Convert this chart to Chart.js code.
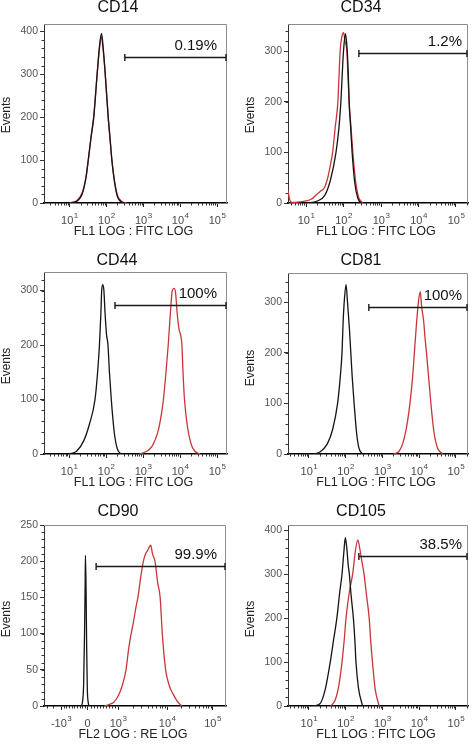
<!DOCTYPE html>
<html lang="en">
<head>
<meta charset="UTF-8" />
<title>Flow cytometry histograms</title>
<script src="https://cdn.jsdelivr.net/npm/chart.js"></script>
<style>
  body { margin: 0; background: #fff; }
  #wrap { position: relative; width: 472px; height: 744px; }
  #wrap canvas { position: absolute; }
</style>
</head>
<body>
<div id="wrap">
  <canvas id="c0" style="left:0;top:0"></canvas>
  <canvas id="c1" style="left:236px;top:0"></canvas>
  <canvas id="c2" style="left:0;top:248px"></canvas>
  <canvas id="c3" style="left:236px;top:248px"></canvas>
  <canvas id="c4" style="left:0;top:496px"></canvas>
  <canvas id="c5" style="left:236px;top:496px"></canvas>
</div>
<script>
// histogram points: [channel (log10 of intensity), events]
// black = isotype control, red = stained sample
const cd14Iso = [[1.0,0],[1.2,4],[1.35,22],[1.45,60],[1.51,100],[1.58,150],[1.66,200],[1.75,300],[1.82,370],[1.87,395],[1.92,355],[1.97,300],[2.01,250],[2.05,200],[2.1,150],[2.15,100],[2.22,50],[2.3,15],[2.4,3],[2.5,0]];
const cd14Stain = [[1.0,0],[1.2,6],[1.35,25],[1.45,62],[1.51,100],[1.58,150],[1.66,205],[1.75,300],[1.82,365],[1.86,388],[1.91,360],[1.97,300],[2.01,250],[2.05,200],[2.1,150],[2.15,100],[2.22,52],[2.3,18],[2.4,5],[2.55,0]];

const cd34Iso = [[1.1,0],[1.3,4],[1.5,15],[1.65,45],[1.8,100],[1.88,150],[1.93,200],[1.97,260],[2.0,300],[2.05,335],[2.08,320],[2.1,300],[2.13,250],[2.15,200],[2.19,150],[2.23,100],[2.3,40],[2.38,10],[2.47,0]];
const cd34Stain = [[0.52,25],[0.56,8],[0.62,1],[0.8,2],[1.0,4],[1.15,8],[1.3,18],[1.42,25],[1.49,30],[1.58,50],[1.65,75],[1.71,100],[1.78,150],[1.85,200],[1.88,250],[1.91,300],[1.96,330],[2.0,337],[2.04,320],[2.09,300],[2.12,250],[2.15,200],[2.2,150],[2.25,100],[2.32,45],[2.4,12],[2.51,0]];

const cd44Iso = [[1.0,0],[1.2,5],[1.4,25],[1.55,55],[1.7,100],[1.77,150],[1.82,200],[1.86,260],[1.88,300],[1.91,311],[1.94,300],[1.97,260],[2.01,220],[2.05,200],[2.09,150],[2.14,100],[2.22,40],[2.3,10],[2.4,0]];
const cd44Stain = [[2.9,0],[3.1,5],[3.25,15],[3.4,40],[3.5,75],[3.55,100],[3.62,150],[3.68,200],[3.74,260],[3.79,300],[3.84,304],[3.88,295],[3.92,260],[3.97,230],[4.05,200],[4.08,150],[4.12,100],[4.2,50],[4.3,18],[4.4,5],[4.54,0]];

const cd81Iso = [[1.1,0],[1.3,4],[1.5,20],[1.65,50],[1.78,100],[1.85,150],[1.9,200],[1.93,260],[1.96,300],[2.01,335],[2.05,300],[2.1,250],[2.14,200],[2.18,150],[2.23,100],[2.3,40],[2.36,12],[2.45,0]];
const cd81Stain = [[3.3,0],[3.45,5],[3.55,20],[3.65,50],[3.75,100],[3.82,150],[3.87,200],[3.93,260],[3.98,300],[4.03,321],[4.07,290],[4.12,265],[4.16,230],[4.2,200],[4.26,150],[4.32,100],[4.4,45],[4.5,12],[4.64,0]];

// CD90 is on a biexponential axis: channel 0 = 0, 1 = 10^3
const cd90Iso = [[-0.2,0],[-0.16,8],[-0.13,30],[-0.1,100],[-0.08,170],[-0.07,208],[-0.05,160],[-0.03,80],[-0.01,25],[0.02,5],[0.05,0]];
const cd90Stain = [[0.55,0],[0.7,2],[0.85,5],[0.95,10],[1.05,18],[1.15,30],[1.26,50],[1.35,80],[1.43,100],[1.5,115],[1.58,135],[1.65,150],[1.75,180],[1.83,200],[1.9,210],[1.97,215],[2.07,222],[2.13,210],[2.21,200],[2.3,170],[2.38,150],[2.45,100],[2.56,50],[2.68,28],[2.81,16],[2.95,6],[3.09,0]];

const cd105Iso = [[1.1,0],[1.3,5],[1.45,40],[1.58,100],[1.67,150],[1.76,200],[1.84,260],[1.9,300],[1.95,350],[1.99,383],[2.03,360],[2.07,320],[2.1,300],[2.15,250],[2.21,200],[2.25,150],[2.28,100],[2.35,40],[2.46,0]];
const cd105Stain = [[1.6,0],[1.72,15],[1.82,50],[1.9,100],[1.96,150],[2.01,200],[2.1,260],[2.19,300],[2.26,350],[2.33,378],[2.38,360],[2.44,330],[2.5,300],[2.57,250],[2.64,200],[2.68,150],[2.73,100],[2.8,40],[2.91,0]];

const markers = ['CD14', 'CD34', 'CD44', 'CD81', 'CD90', 'CD105'];
const xTitles = ['FL1 LOG : FITC LOG', 'FL1 LOG : FITC LOG', 'FL1 LOG : FITC LOG', 'FL1 LOG : FITC LOG', 'FL2 LOG : RE LOG', 'FL1 LOG : FITC LOG'];
const gateLabels = ['0.19%', '1.2%', '100%', '100%', '99.9%', '38.5%'];
const gateStart = [2.50, 2.41, 2.24, 2.63, 0.28, 2.36];
const gateLevel = [340, 296, 274, 290, 193, 341];
const yMaxes = [417, 354, 334, 358, 250, 412];
const yTickSets = [[0,100,200,300,400], [0,100,200,300], [0,100,200,300], [0,100,200,300], [0,50,100,150,200,250], [0,100,200,300,400]];
const xRanges = [[0.31,5.27], [0.52,5.32], [0.32,5.27], [0.43,5.33], [-1.43,4.54], [0.43,5.33]];
const logTicks = [1, 2, 3, 4, 5];
const logTickLabels = [['10','1'], ['10','2'], ['10','3'], ['10','4'], ['10','5']];
const biexTicks = [-0.87, 0, 1, 2.61, 4.1];
const biexTickLabels = [['-10','3'], ['0',''], ['10','3'], ['10','4'], ['10','5']];

// plot box of each panel inside its 236x248 canvas
const boxes = [
  { left: 44, right: 227, top: 24, bottom: 203, titleX: 118, titleY: 8,  evX: 7,  evY: 115, pctR: 217 },
  { left: 52, right: 232, top: 24, bottom: 203, titleX: 125, titleY: 8,  evX: 15, evY: 115, pctR: 226 },
  { left: 44, right: 227, top: 24, bottom: 206, titleX: 117, titleY: 13, evX: 7,  evY: 118, pctR: 217 },
  { left: 52, right: 232, top: 25, bottom: 206, titleX: 125, titleY: 13, evX: 15, evY: 120, pctR: 226 },
  { left: 44, right: 226, top: 29, bottom: 210, titleX: 118, titleY: 16, evX: 7,  evY: 123, pctR: 217 },
  { left: 52, right: 232, top: 29, bottom: 210, titleX: 125, titleY: 16, evX: 15, evY: 123, pctR: 226 }
];

const FONT = "'Liberation Sans', Arial, sans-serif";
const W = 236, H = 248;

function minorTicks(i) {
  const [lo, hi] = xRanges[i];
  const out = [];
  if (i === 4) {
    for (let k = 1; k <= 9; k++) { out.push(k / 10); out.push(-0.087 * k); }
    [-1.15, -1.32].forEach(v => out.push(v));
    for (let k = 2; k <= 9; k++) { out.push(1 + 1.61 * Math.log10(k)); out.push(2.61 + 1.49 * Math.log10(k)); }
  } else {
    for (let n = 0; n <= 5; n++) {
      for (let k = 2; k <= 9; k++) out.push(n + Math.log10(k));
    }
  }
  return out.filter(v => v > lo && v < hi);
}

const decor = {
  id: 'decor',
  afterDraw(chart) {
    const i = +chart.canvas.id.slice(1);
    const b = boxes[i];
    const ctx = chart.ctx, a = chart.chartArea;
    const xs = chart.scales.x, ys = chart.scales.y;
    ctx.save();

    // top and right edges of the plot box
    ctx.strokeStyle = '#8c8c8c';
    ctx.lineWidth = 1;
    ctx.beginPath();
    ctx.moveTo(a.left, a.top + 0.5);
    ctx.lineTo(a.right - 0.5, a.top + 0.5);
    ctx.lineTo(a.right - 0.5, a.bottom);
    ctx.stroke();

    // minor ticks
    ctx.strokeStyle = '#333';
    ctx.beginPath();
    minorTicks(i).forEach(v => {
      const px = Math.round(xs.getPixelForValue(v)) + 0.5;
      ctx.moveTo(px, a.bottom);
      ctx.lineTo(px, a.bottom + 2.5);
    });
    const step = i === 4 ? 10 : 20;
    for (let v = step; v < yMaxes[i]; v += step) {
      const py = Math.round(ys.getPixelForValue(v)) + 0.5;
      ctx.moveTo(a.left, py);
      ctx.lineTo(a.left - 2.5, py);
    }
    ctx.stroke();

    // x tick labels with superscript exponents
    const vals = i === 4 ? biexTicks : logTicks;
    const labs = i === 4 ? biexTickLabels : logTickLabels;
    ctx.fillStyle = '#4a4a4a';
    ctx.textAlign = 'left';
    ctx.textBaseline = 'alphabetic';
    vals.forEach((v, k) => {
      const [base, sup] = labs[k];
      ctx.font = `11px ${FONT}`;
      const wb = ctx.measureText(base).width;
      ctx.font = `8px ${FONT}`;
      const ws = sup ? ctx.measureText(sup).width : 0;
      const x0 = xs.getPixelForValue(v) - (wb + ws) / 2;
      const yb = a.bottom + 21;
      ctx.font = `11px ${FONT}`;
      ctx.fillText(base, x0, yb);
      if (sup) {
        ctx.font = `8px ${FONT}`;
        ctx.fillText(sup, x0 + wb + 0.5, yb - 6);
      }
    });

    // titles
    ctx.textAlign = 'center';
    ctx.textBaseline = 'middle';
    ctx.fillStyle = '#111';
    ctx.font = `16px ${FONT}`;
    ctx.fillText(markers[i], b.titleX, b.titleY);
    ctx.fillStyle = '#222';
    ctx.font = `12.5px ${FONT}`;
    ctx.fillText(xTitles[i], (a.left + a.right) / 2 - 2, a.bottom + 29);
    ctx.save();
    ctx.translate(b.evX, b.evY);
    ctx.rotate(-Math.PI / 2);
    ctx.font = `12px ${FONT}`;
    ctx.fillText('Events', 0, 0);
    ctx.restore();

    // positive gate
    const gx1 = xs.getPixelForValue(gateStart[i]);
    const gx2 = a.right - 1;
    const gy = Math.round(ys.getPixelForValue(gateLevel[i])) + 0.5;
    ctx.strokeStyle = '#1a1a1a';
    ctx.lineWidth = 1.4;
    ctx.beginPath();
    ctx.moveTo(gx1, gy); ctx.lineTo(gx2, gy);
    ctx.moveTo(gx1, gy - 3.5); ctx.lineTo(gx1, gy + 3.5);
    ctx.moveTo(gx2, gy - 3.5); ctx.lineTo(gx2, gy + 3.5);
    ctx.stroke();
    ctx.fillStyle = '#111';
    ctx.textAlign = 'right';
    ctx.font = `15px ${FONT}`;
    ctx.fillText(gateLabels[i], b.pctR, gy - 12);

    ctx.restore();
  }
};

const series = [
  [cd14Iso, cd14Stain], [cd34Iso, cd34Stain], [cd44Iso, cd44Stain],
  [cd81Iso, cd81Stain], [cd90Iso, cd90Stain], [cd105Iso, cd105Stain]
];

series.forEach(([iso, stain], i) => {
  const b = boxes[i];
  const canvas = document.getElementById('c' + i);
  canvas.width = W; canvas.height = H;
  canvas.style.width = W + 'px'; canvas.style.height = H + 'px';
  const line = (pts, color) => ({
    data: pts.map(([x, y]) => ({ x, y })),
    borderColor: color,
    borderWidth: 1.3,
    pointRadius: 0,
    fill: false,
    cubicInterpolationMode: 'monotone'
  });
  new Chart(canvas, {
    type: 'line',
    data: { datasets: [line(iso, '#141414'), line(stain, '#c9363a')] },
    options: {
      responsive: false,
      animation: false,
      layout: { padding: { left: 0, top: b.top, right: W - b.right, bottom: 0 } },
      plugins: { legend: { display: false }, tooltip: { enabled: false } },
      scales: {
        x: {
          type: 'linear',
          min: xRanges[i][0],
          max: xRanges[i][1],
          afterBuildTicks: s => { s.ticks = (i === 4 ? biexTicks : logTicks).map(v => ({ value: v })); },
          afterFit: s => { s.height = H - b.bottom; },
          grid: { drawOnChartArea: false, drawTicks: true, tickLength: 4, color: '#222' },
          border: { color: '#000', width: 1.6 },
          ticks: { display: false }
        },
        y: {
          type: 'linear',
          min: 0,
          max: yMaxes[i],
          afterBuildTicks: s => { s.ticks = yTickSets[i].map(v => ({ value: v })); },
          afterFit: s => { s.width = b.left; },
          grid: { drawOnChartArea: false, drawTicks: true, tickLength: 4, color: '#333' },
          border: { color: '#333', width: 1 },
          ticks: { font: { size: 10.5, family: FONT }, color: '#555', padding: 2 }
        }
      }
    },
    plugins: [decor]
  });
});
</script>
</body>
</html>
